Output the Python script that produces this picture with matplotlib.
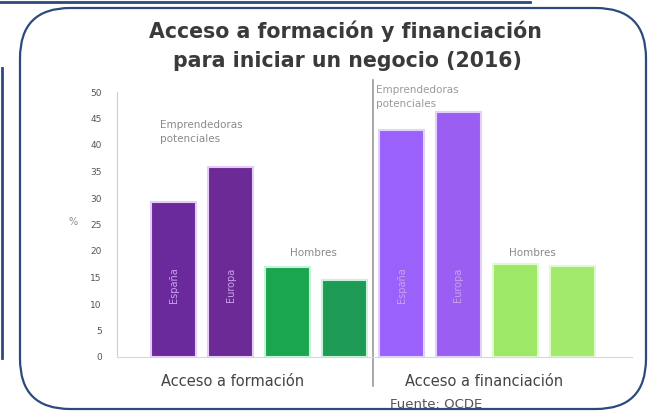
import matplotlib
matplotlib.use("Agg")
import matplotlib.pyplot as plt
from matplotlib.patches import FancyBboxPatch
from matplotlib.lines import Line2D

# ---- data ----
title_lines = ["Acceso a formación y financiación", "para iniciar un negocio (2016)"]
groups = ["Acceso a formación", "Acceso a financiación"]
values = [29.2, 35.8, 17.0, 14.5, 42.8, 46.2, 17.6, 17.2]
colors = ["#6a2a9c", "#6c2a96", "#1aa64e", "#1e9b55", "#9a62fb", "#9b5ef2", "#9ee868", "#a2ea6c"]
edge_colors = ["#e6cdf7", "#e6cdf7", "#c9f2dc", "#c9f2dc", "#e2d2fb", "#e2d2fb", "#e2f8cf", "#e2f8cf"]
inner_labels = ["España", "Europa", "", "", "España", "Europa", "", ""]
annotations = ["Emprendedoras\npotenciales", "Hombres", "Emprendedoras\npotenciales", "Hombres"]
yticks = [0, 5, 10, 15, 20, 25, 30, 35, 40, 45, 50]
source = "Fuente: OCDE"

W, H = 669, 417
fig = plt.figure(figsize=(W / 100, H / 100), dpi=100)
fig.patch.set_facecolor("white")

# slide decorations
navy = "#2c4a7c"
fig.add_artist(Line2D([0, 530 / W], [1 - 1.5 / H, 1 - 1.5 / H], color=navy, lw=2, transform=fig.transFigure))
fig.add_artist(Line2D([1.5 / W, 1.5 / W], [1 - 68 / H, 1 - 358 / H], color=navy, lw=2, transform=fig.transFigure))
box = FancyBboxPatch((20 / W, 8 / H), (646 - 20) / W, (409 - 8) / H,
                     boxstyle="round,pad=0,rounding_size=0.075",
                     transform=fig.transFigure, fill=False, edgecolor=navy, lw=1.6,
                     mutation_aspect=W / H)
fig.add_artist(box)

ax = fig.add_axes([117 / W, 1 - 357 / H, (632 - 117) / W, (357 - 92) / H])
x = list(range(len(values)))
ax.bar(x, values, width=0.79, color=colors, edgecolor=edge_colors, linewidth=1.5)
ax.set_xlim(-1.0, 8.05)
ax.set_ylim(0, 50)
ax.set_yticks(yticks)
ax.set_yticklabels([str(t) for t in yticks], fontsize=6.5, color="#555555")
ax.tick_params(axis="y", length=0, pad=11)
ax.set_xticks([])
for s in ["top", "right"]:
    ax.spines[s].set_visible(False)
ax.spines["left"].set_color("#d0d0d0")
ax.spines["bottom"].set_color("#d8d8d8")
ax.set_ylabel("%", rotation=0, fontsize=7, color="#888888")
ax.yaxis.set_label_coords(-0.085, 0.49)

# divider
ax.plot([3.5, 3.5], [-5.5, 52.3], color="#9a9a9a", lw=1.2, clip_on=False)

# inner labels
for xi, lab in zip(x, inner_labels):
    if lab:
        ax.text(xi, 13.6, lab, rotation=90, ha="center", va="center",
                fontsize=7, color="#c9a2ec")

# annotations
ax.text(-0.25, 42.5, annotations[0], ha="left", va="center", fontsize=7.5,
        color="#8a8a8a", linespacing=1.5)
ax.text(2.45, 19.6, annotations[1], ha="center", va="center", fontsize=7.5, color="#8a8a8a")
ax.text(3.55, 49.0, annotations[2], ha="left", va="center", fontsize=7.5,
        color="#9a9a9a", linespacing=1.5, clip_on=False)
ax.text(6.3, 19.6, annotations[3], ha="center", va="center", fontsize=7.5, color="#8a8a8a")

# group labels
ax.text(1.03, -4.7, groups[0], ha="center", va="center", fontsize=10.5, color="#444444", clip_on=False)
ax.text(5.45, -4.7, groups[1], ha="center", va="center", fontsize=10.5, color="#444444", clip_on=False)

# title
fig.text(345 / W, 1 - 31 / H, title_lines[0], ha="center", va="center",
         fontsize=14.8, fontweight="bold", color="#3a3a3a")
fig.text(347 / W, 1 - 61 / H, title_lines[1], ha="center", va="center",
         fontsize=14.8, fontweight="bold", color="#3a3a3a")

fig.text(390 / W, 1 - 404 / H, source, ha="left", va="center", fontsize=9.5, color="#555555")

fig.savefig("out.png", dpi=100)
